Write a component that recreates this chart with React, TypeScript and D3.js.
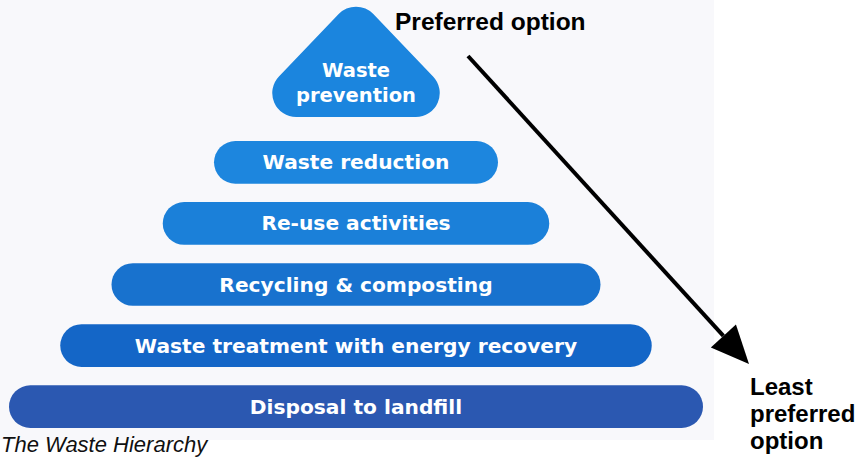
import * as d3 from "d3";

const tiers = [
  "Waste prevention",
  "Waste reduction",
  "Re-use activities",
  "Recycling & composting",
  "Waste treatment with energy recovery",
  "Disposal to landfill",
];
const tierColors = ["#1b85de", "#1d86de", "#1b80d9", "#1872ce", "#1466c7", "#2b58b1"];
const topLines = ["Waste", "prevention"];
const topLabel = "Preferred option";
const bottomLabel = ["Least", "preferred", "option"];
const caption = "The Waste Hierarchy";

const W = 859;
const H = 458;
const CX = 356;

const App = () => {
  const pills = tiers.slice(1);

  const yScale = d3.scaleBand<string>().domain(pills).range([141, 428]).paddingInner(0.3);
  const wScale = d3.scaleLinear().domain([0, pills.length - 1]).range([284, 694]);

  // rounded triangle for the top tier
  const apexY = -4;
  const baseY = 117;
  const half = 116;
  const r = 24;
  const tri = d3.path();
  tri.moveTo(CX, baseY);
  tri.arcTo(CX + half, baseY, CX, apexY, r);
  tri.arcTo(CX, apexY, CX - half, baseY, r);
  tri.arcTo(CX - half, baseY, CX, baseY, r);
  tri.closePath();

  // arrow
  const x0 = 468, y0 = 56, tipX = 749, tipY = 364;
  const ang = Math.atan2(tipY - y0, tipX - x0);
  const headLen = 38, headHalf = 17;
  const bx = tipX - headLen * Math.cos(ang);
  const by = tipY - headLen * Math.sin(ang);
  const px = -Math.sin(ang), py = Math.cos(ang);
  const head = [
    [tipX, tipY],
    [bx + px * headHalf, by + py * headHalf],
    [bx - px * headHalf, by - py * headHalf],
  ];

  const pillFont = "'DejaVu Sans', Verdana, sans-serif";
  const labelFont = "'Liberation Sans', Arial, Helvetica, sans-serif";

  return (
    <div style={{ position: "absolute", left: 0, top: 0 }}>
      <svg width={W} height={H} style={{ display: "block" }}>
        <rect x={0} y={0} width={W} height={H} fill="#ffffff" />
        <rect x={0} y={0} width={714} height={440} fill="#f8f8fb" />

        <path d={tri.toString()} fill={tierColors[0]} />
        {topLines.map((t, i) => (
          <text
            key={t}
            x={CX}
            y={77 + i * 25}
            textAnchor="middle"
            fill="#ffffff"
            fontFamily={pillFont}
            fontWeight="bold"
            fontSize={19.5}
          >
            {t}
          </text>
        ))}

        {pills.map((d, i) => {
          const y = yScale(d) ?? 0;
          const bw = yScale.bandwidth();
          const w = wScale(i);
          return (
            <g key={d}>
              <rect
                x={CX - w / 2}
                y={y}
                width={w}
                height={bw}
                rx={bw / 2}
                fill={tierColors[i + 1]}
              />
              <text
                x={CX}
                y={y + bw / 2 + 7}
                textAnchor="middle"
                fill="#ffffff"
                fontFamily={pillFont}
                fontWeight="bold"
                fontSize={20.2}
              >
                {d}
              </text>
            </g>
          );
        })}

        <line x1={x0} y1={y0} x2={bx} y2={by} stroke="#000" strokeWidth={4} />
        <polygon points={head.map((p) => p.join(",")).join(" ")} fill="#000" />

        <text x={395} y={30} fontFamily={labelFont} fontWeight="bold" fontSize={24.5} fill="#000">
          {topLabel}
        </text>
        {bottomLabel.map((t, i) => (
          <text
            key={t}
            x={750}
            y={395 + i * 27}
            fontFamily={labelFont}
            fontWeight="bold"
            fontSize={24}
            fill="#000"
          >
            {t}
          </text>
        ))}

        <text x={1} y={452} fontFamily={labelFont} fontStyle="italic" fontSize={22} fill="#111">
          {caption}
        </text>
      </svg>
    </div>
  );
};

export default App;
